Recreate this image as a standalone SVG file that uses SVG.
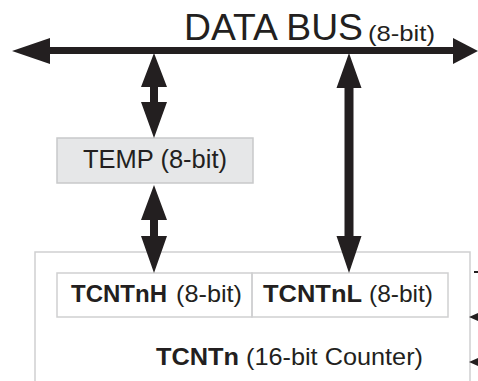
<svg xmlns="http://www.w3.org/2000/svg" width="478" height="381" viewBox="0 0 478 381">
  <style>
    .ink { fill: #231f20; }
    .box { fill: none; stroke: #cfd0d1; stroke-width: 1.5; }
    .lbl { font-family: "Liberation Sans", Arial, sans-serif; fill: #231f20; }
    .b { font-weight: bold; }
  </style>
  <rect width="478" height="381" fill="#ffffff"/>

  <!-- counter register block (open at the bottom) -->
  <g id="tcntn">
    <path class="box" d="M35,381 V252 H470 V381"/>
    <text class="lbl" x="156" y="365" font-size="24"><tspan class="b" textLength="83" lengthAdjust="spacingAndGlyphs">TCNTn</tspan><tspan x="246" textLength="177" lengthAdjust="spacingAndGlyphs">(16-bit Counter)</tspan></text>
  </g>

  <g id="tcntnh">
    <rect class="box" x="57" y="273" width="195" height="44"/>
    <text class="lbl" x="71" y="302" font-size="24"><tspan class="b" textLength="96" lengthAdjust="spacingAndGlyphs">TCNTnH</tspan><tspan x="176" textLength="66" lengthAdjust="spacingAndGlyphs">(8-bit)</tspan></text>
  </g>

  <g id="tcntnl">
    <rect class="box" x="252" y="273" width="196" height="44"/>
    <text class="lbl" x="263" y="302" font-size="24"><tspan class="b" textLength="99" lengthAdjust="spacingAndGlyphs">TCNTnL</tspan><tspan x="369" textLength="64" lengthAdjust="spacingAndGlyphs">(8-bit)</tspan></text>
  </g>

  <g id="temp">
    <rect x="57" y="138" width="196" height="45" fill="#e6e7e8" stroke="#c8c9ca" stroke-width="1.5"/>
    <text class="lbl" x="83" y="168" font-size="25" textLength="144" lengthAdjust="spacingAndGlyphs">TEMP (8-bit)</text>
  </g>

  <g id="data-bus">
    <text class="lbl" x="184" y="40" font-size="36" textLength="179" lengthAdjust="spacingAndGlyphs">DATA BUS</text>
    <text class="lbl" x="368" y="41" font-size="22" textLength="67" lengthAdjust="spacingAndGlyphs">(8-bit)</text>
  </g>

  <g id="connectors" class="ink">
    <!-- bus line with arrowheads at both ends -->
    <rect x="49" y="47" width="405" height="7"/>
    <polygon points="12,51 50,38 50,64"/>
    <polygon points="478,51 453,38 453,64"/>

    <!-- bus <-> TEMP -->
    <polygon points="154,53 167,87 158,87 158,102 167,102 154,138 141,102 150,102 150,87 141,87"/>
    <!-- TEMP <-> TCNTnH -->
    <polygon points="154,185 167,220 158,220 158,236 167,236 154,273 141,236 150,236 150,220 141,220"/>
    <!-- bus <-> TCNTnL -->
    <polygon points="349,53 361.5,88 353.5,88 353.5,236 361.5,236 349,273 336.5,236 344.5,236 344.5,88 336.5,88"/>

    <!-- inputs entering from the right -->
    <rect x="474" y="271" width="4" height="2"/>
    <polygon points="469,317 478,313 478,321"/>
    <polygon points="469,362 478,358 478,366"/>
  </g>
</svg>
